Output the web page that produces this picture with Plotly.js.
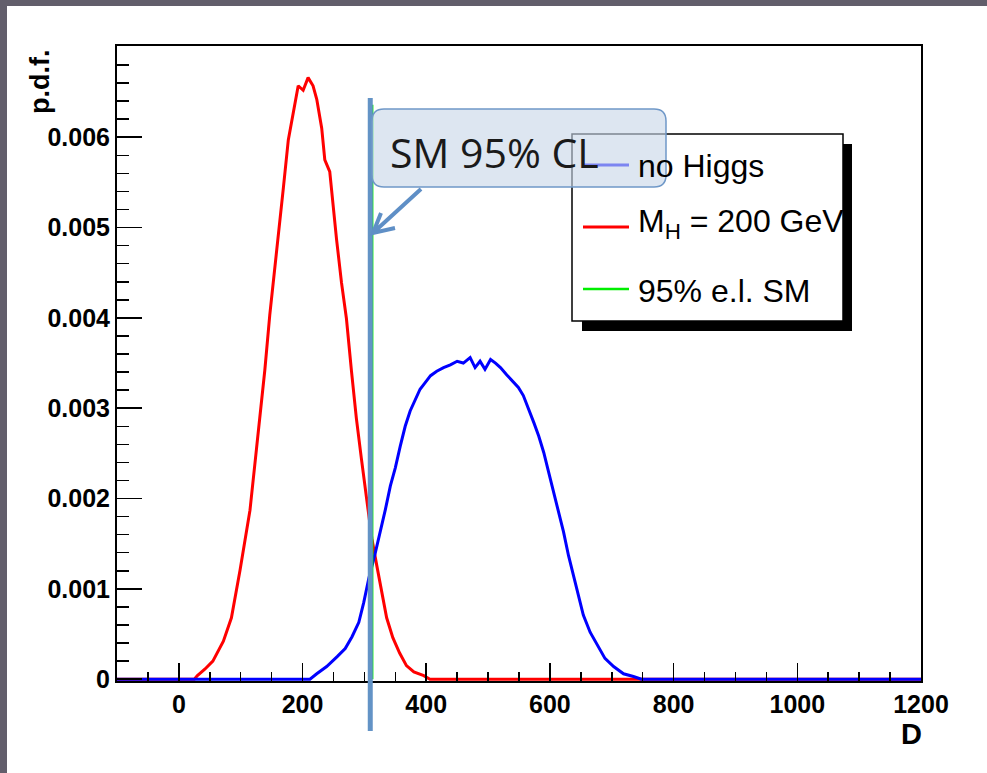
<!DOCTYPE html>
<html><head><meta charset="utf-8">
<script src="https://cdn.plot.ly/plotly-3.0.1.min.js"></script>
<style>
html,body{margin:0;padding:0;background:#fff;overflow:hidden;}
#chart{width:987px;height:773px;}
.frameL{position:absolute;left:0;top:0;width:7px;height:773px;background:#625e6b;}
.frameT{position:absolute;left:0;top:0;width:987px;height:6px;background:#625e6b;}
</style></head><body>
<div id="chart"></div>
<div class="frameL"></div><div class="frameT"></div>
<script>
// ---- data ----
const redD = [-100, 25, 30, 42, 55, 72, 85, 99, 115, 128, 139, 147, 158, 169, 177, 185, 193, 201, 209, 217, 223, 231, 236, 244, 250, 255, 263, 271, 279, 287, 295, 303, 312, 320, 328, 336, 346, 357, 368, 380, 396, 406, 1200];
const redP = [0, 0, 0.00004, 0.00011, 0.0002, 0.00042, 0.00068, 0.00121, 0.00187, 0.00267, 0.00342, 0.00403, 0.0047, 0.00544, 0.00597, 0.00628, 0.00657, 0.00652, 0.00666, 0.00657, 0.00642, 0.0061, 0.00575, 0.00562, 0.00518, 0.00487, 0.00439, 0.00399, 0.00342, 0.00289, 0.00245, 0.00201, 0.00156, 0.00126, 0.00095, 0.00068, 0.00046, 0.00029, 0.00015, 0.00008, 0.00004, 0, 0];
const blueD = [-100, 212, 223, 239, 256, 269, 280, 291, 299, 307, 318, 326, 334, 342, 350, 358, 366, 374, 382, 390, 398, 407, 417, 428, 439, 450, 460, 471, 479, 487, 495, 504, 512, 520, 530, 539, 549, 557, 566, 574, 582, 590, 598, 606, 614, 622, 630, 638, 646, 654, 665, 676, 689, 703, 719, 735, 748, 1200];
const blueP = [0, 0, 0.00006, 0.00014, 0.00025, 0.00034, 0.00047, 0.00063, 0.00085, 0.00111, 0.00141, 0.00163, 0.00188, 0.00214, 0.00234, 0.00258, 0.0028, 0.00297, 0.0031, 0.00321, 0.00328, 0.00336, 0.00341, 0.00345, 0.00348, 0.00352, 0.0035, 0.00356, 0.00345, 0.00352, 0.00343, 0.00354, 0.0035, 0.00345, 0.00337, 0.0033, 0.00323, 0.00314, 0.00299, 0.00284, 0.00269, 0.00251, 0.00229, 0.00207, 0.00185, 0.00163, 0.00137, 0.00115, 0.00093, 0.00071, 0.00052, 0.00038, 0.00023, 0.00014, 0.00006, 0.00003, 0, 0];
const clX = [313, 313];
const clY = [0, 0.00636];
const smCL_D = 309.5;   // position of the highlighted "SM 95% CL" marker line

const xTicks = [0, 200, 400, 600, 800, 1000, 1200];
const xTickText = ['0', '200', '400', '600', '800', '1000', '1200'];
const yTicks = [0, 0.001, 0.002, 0.003, 0.004, 0.005, 0.006];
const yTickText = ['0', '0.001', '0.002', '0.003', '0.004', '0.005', '0.006'];

const seriesNames = ['no Higgs', 'M<sub>H</sub> = 200 GeV', '95% e.l. SM'];
const seriesColors = ['#0000ff', '#ff0000', '#00ee00'];

// ---- geometry (pixels) ----
const W = 987, H = 773;
const L = 117, R = 921, T = 46, B = 681;
const px = x => (x - L) / (R - L);
const py = y => (B - y) / (B - T);

const tickFont = {family: 'Liberation Sans, Arial, sans-serif', size: 25, color: '#000', weight: 'bold'};
const legFont = {family: 'Liberation Sans, Arial, sans-serif', size: 32, color: '#000'};

const traces = [
  {x: redD, y: redP, type: 'scatter', mode: 'lines', line: {color: seriesColors[1], width: 3}, name: seriesNames[1], hoverinfo: 'skip'},
  {x: blueD, y: blueP, type: 'scatter', mode: 'lines', line: {color: seriesColors[0], width: 3}, name: seriesNames[0], hoverinfo: 'skip'},
  {x: clX, y: clY, type: 'scatter', mode: 'lines', line: {color: seriesColors[2], width: 2}, name: seriesNames[2], hoverinfo: 'skip'}
];

// rounded rectangle path in paper coords
function roundRect(x0, y0, x1, y1, r) {
  const P = (x, y) => px(x).toFixed(5) + ',' + py(y).toFixed(5);
  return 'M' + P(x0 + r, y0) + ' L' + P(x1 - r, y0) + ' Q' + P(x1, y0) + ' ' + P(x1, y0 + r) +
    ' L' + P(x1, y1 - r) + ' Q' + P(x1, y1) + ' ' + P(x1 - r, y1) +
    ' L' + P(x0 + r, y1) + ' Q' + P(x0, y1) + ' ' + P(x0, y1 - r) +
    ' L' + P(x0, y0 + r) + ' Q' + P(x0, y0) + ' ' + P(x0 + r, y0) + ' Z';
}
const pp = (x, y) => px(x).toFixed(5) + ',' + py(y).toFixed(5);

const legRows = [165, 227, 289];
const shapes = [
  // legend shadow + box
  {type: 'rect', xref: 'paper', yref: 'paper', x0: px(582), x1: px(852), y0: py(144), y1: py(331), fillcolor: '#000', line: {width: 0}, layer: 'above'},
  {type: 'rect', xref: 'paper', yref: 'paper', x0: px(572), x1: px(843), y0: py(134), y1: py(321), fillcolor: '#fff', line: {color: '#000', width: 1.5}, layer: 'above'}
];
legRows.forEach((yy, i) => {
  shapes.push({type: 'line', xref: 'paper', yref: 'paper', x0: px(583), x1: px(629), y0: py(yy), y1: py(yy),
    line: {color: seriesColors[i], width: i === 2 ? 2.5 : 3}, layer: 'above'});
});
// highlighted marker line (slide overlay)
shapes.push({type: 'line', xref: 'x', yref: 'paper', x0: smCL_D, x1: smCL_D, y0: py(731), y1: py(98),
  line: {color: '#6393c6', width: 5}, layer: 'above'});
// callout box
shapes.push({type: 'path', xref: 'paper', yref: 'paper', path: roundRect(372, 109, 666, 187, 12),
  fillcolor: 'rgba(200,214,233,0.62)', line: {color: '#6f98c8', width: 1.5}, layer: 'above'});
// callout arrow
shapes.push({type: 'path', xref: 'paper', yref: 'paper',
  path: 'M' + pp(421, 189) + ' L' + pp(374, 232) + ' M' + pp(395, 228) + ' L' + pp(373, 233) + ' L' + pp(381, 213),
  line: {color: '#5f8fc6', width: 4}, layer: 'above'});

const annotations = [
  {text: '<b>p.d.f.</b>', xref: 'paper', yref: 'paper', x: px(40), y: py(48), xanchor: 'center', yanchor: 'top', textangle: -90,
    showarrow: false, font: {family: 'Liberation Sans, Arial, sans-serif', size: 27, color: '#000'}},
  {text: '<b>D</b>', xref: 'paper', yref: 'paper', x: px(911), y: py(734), xanchor: 'center', yanchor: 'middle',
    showarrow: false, font: {family: 'Liberation Sans, Arial, sans-serif', size: 29, color: '#000'}},
  {text: 'SM 95% CL', xref: 'paper', yref: 'paper', x: px(388), y: py(152), xanchor: 'left', yanchor: 'middle',
    showarrow: false, font: {family: 'Open Sans, Noto Sans, sans-serif', size: 41, color: '#1a1a1a'}}
];
const legTextY = [166, 224, 291];
seriesNames.forEach((nm, i) => {
  annotations.push({text: nm, xref: 'paper', yref: 'paper', x: px(636), y: py(legTextY[i]), xanchor: 'left', yanchor: 'middle',
    showarrow: false, font: legFont});
});

const axisCommon = {
  ticks: 'inside', tickcolor: '#000', tickwidth: 1.5, showline: true, linecolor: '#000', linewidth: 2,
  mirror: true, showgrid: false, zeroline: false, tickfont: tickFont, tickmode: 'array'
};

const layout = {
  width: W, height: H,
  margin: {l: L, r: W - R, t: T, b: H - B, pad: 0},
  paper_bgcolor: '#fff', plot_bgcolor: '#fff',
  showlegend: false,
  xaxis: Object.assign({}, axisCommon, {range: [-100, 1200], tickvals: xTicks, ticktext: xTickText, ticklen: 18,
    minor: {tick0: 0, dtick: 50, ticks: 'inside', ticklen: 9, tickwidth: 1.5, tickcolor: '#000', showgrid: false}}),
  yaxis: Object.assign({}, axisCommon, {range: [-0.00002, 0.00701], tickvals: yTicks, ticktext: yTickText, ticklen: 25,
    minor: {tick0: 0, dtick: 0.0002, ticks: 'inside', ticklen: 12, tickwidth: 1.5, tickcolor: '#000', showgrid: false}}),
  shapes: shapes,
  annotations: annotations
};

Plotly.newPlot('chart', traces, layout, {staticPlot: true, displayModeBar: false});
</script></body></html>
